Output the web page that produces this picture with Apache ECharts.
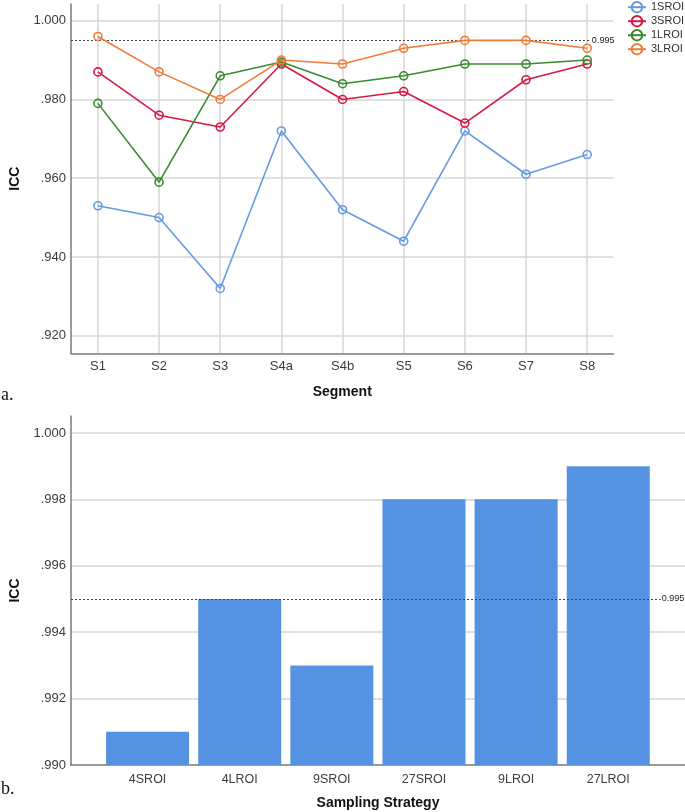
<!DOCTYPE html>
<html>
<head>
<meta charset="utf-8">
<script src="https://cdn.jsdelivr.net/npm/echarts@6/dist/echarts.min.js"></script>
<style>html,body{margin:0;padding:0;background:#fff}#c{width:685px;height:812px}</style>
</head>
<body>
<div id="c"></div>
<script>
const segments = ['S1','S2','S3','S4a','S4b','S5','S6','S7','S8'];
const icc1SROI = [0.953,0.950,0.932,0.972,0.952,0.944,0.972,0.961,0.966];
const icc3SROI = [0.987,0.976,0.973,0.989,0.980,0.982,0.974,0.985,0.989];
const icc1LROI = [0.979,0.959,0.986,0.9895,0.984,0.986,0.989,0.989,0.990];
const icc3LROI = [0.996,0.987,0.980,0.990,0.989,0.993,0.995,0.995,0.993];
const seriesNames = ['1SROI','3SROI','1LROI','3LROI'];
const strategies = ['4SROI','4LROI','9SROI','27SROI','9LROI','27LROI'];
const strategyICC = [0.991,0.995,0.993,0.998,0.998,0.999];
const threshold = 0.995;
const thresholdLabel = '0.995';

const FONT = '"Liberation Sans", Arial, sans-serif';
const colors = ['#6699e0','#d61a44','#3a8a30','#f07c3a'];
const lineData = [icc1SROI, icc3SROI, icc1LROI, icc3LROI];

function iccFmt(step){
  return function(v){
    if (Math.abs(v/step - Math.round(v/step)) > 1e-6) return '';
    if (v > 0.99999) return '1.000';
    return v.toFixed(3).replace(/^0/, '');
  };
}
function catFmt(cats){
  return function(v){
    const r = Math.round(v);
    if (Math.abs(v - r) > 1e-6 || r < 0 || r >= cats.length) return '';
    return cats[r];
  };
}
const gridLine = {show:true, lineStyle:{color:'#d6d6d6', width:1.5}, showMinLine:false, showMaxLine:false};
const axisLineStyle = {show:true, onZero:false, lineStyle:{color:'#7a7a7a', width:1.5}};
const tickLabel = {color:'#3c3c3c', fontFamily:FONT, fontSize:13};
const nameStyle = {color:'#111', fontFamily:FONT, fontSize:14, fontWeight:'bold'};
const refLine = {type:[2,2], color:'#444', width:1};

const lineSeries = seriesNames.map((n,k)=>({
  name:n, type:'line', xAxisIndex:0, yAxisIndex:0,
  data: lineData[k].map((v,i)=>[i,v]),
  symbol:'circle', symbolSize:8,
  lineStyle:{color:colors[k], width:1.6},
  itemStyle:{color:'rgba(255,255,255,0)', borderColor:colors[k], borderWidth:1.6},
  emphasis:{disabled:true},
  z: 3 + k,
  markLine: k === 0 ? {
    silent:true, symbol:['none','none'],
    lineStyle:refLine,
    label:{show:true, position:'end', distance:1, formatter:thresholdLabel, fontSize:9, color:'#222', fontFamily:FONT},
    data:[[{coord:[-0.44, threshold]},{coord:[8.06, threshold]}]]
  } : undefined
}));

const option = {
  animation:false,
  legend:{
    orient:'vertical', left:627, top:1, padding:0,
    itemWidth:18, itemHeight:13, itemGap:1.6,
    textStyle:{fontFamily:FONT, fontSize:11, color:'#333'},
    data: seriesNames
  },
  grid:[
    {left:69, top:4, width:544.5, height:349.3},
    {left:69, top:416, width:616, height:349}
  ],
  xAxis:[
    {type:'value', gridIndex:0, min:-0.44, max:8.43, splitNumber:9, minInterval:1, maxInterval:1,
     axisLine:axisLineStyle, axisTick:{show:false},
     axisLabel:Object.assign({formatter:catFmt(segments), margin:7, showMinLabel:false, showMaxLabel:false}, tickLabel),
     splitLine:gridLine,
     name:'Segment', nameLocation:'middle', nameGap:32, nameTextStyle:nameStyle},
    {type:'value', gridIndex:1, min:-0.831, max:5.833, splitNumber:6, minInterval:1, maxInterval:1,
     axisLine:axisLineStyle, axisTick:{show:false},
     axisLabel:Object.assign({}, tickLabel, {formatter:catFmt(strategies), margin:8, fontSize:12.5, showMinLabel:false, showMaxLabel:false}),
     splitLine:{show:false},
     name:'Sampling Strategy', nameLocation:'middle', nameGap:31, nameTextStyle:nameStyle}
  ],
  yAxis:[
    {type:'value', gridIndex:0, min:0.91553, max:1.00424, splitNumber:4, minInterval:0.02, maxInterval:0.02,
     axisLine:axisLineStyle, axisTick:{show:false},
     axisLabel:Object.assign({formatter:iccFmt(0.02), margin:5, showMinLabel:false, showMaxLabel:false}, tickLabel),
     splitLine:gridLine,
     name:'ICC', nameLocation:'middle', nameGap:49, nameTextStyle:nameStyle},
    {type:'value', gridIndex:1, min:0.990, max:1.00051, splitNumber:5, minInterval:0.002, maxInterval:0.002,
     axisLine:axisLineStyle, axisTick:{show:false},
     axisLabel:Object.assign({formatter:iccFmt(0.002), margin:5, showMinLabel:true, showMaxLabel:false}, tickLabel),
     splitLine:gridLine,
     name:'ICC', nameLocation:'middle', nameGap:49, nameTextStyle:nameStyle}
  ],
  graphic:[
    {type:'text', left:1, top:386, style:{text:'a.', font:'18px "Liberation Serif", "Times New Roman", serif', fill:'#111'}},
    {type:'text', left:1, top:780, style:{text:'b.', font:'18px "Liberation Serif", "Times New Roman", serif', fill:'#111'}}
  ],
  series: lineSeries.concat([{
    name:'Strategy ICC', type:'bar', xAxisIndex:1, yAxisIndex:1,
    data: strategyICC.map((v,i)=>[i,v]),
    barWidth:83, itemStyle:{color:'#5593e2'},
    emphasis:{disabled:true},
    markLine:{
      silent:true, symbol:['none','none'], lineStyle:refLine,
      label:{show:true, position:'end', distance:1, formatter:thresholdLabel, fontSize:9, color:'#222', fontFamily:FONT},
      data:[[{coord:[-0.831, threshold]},{coord:[5.57, threshold]}]]
    },
    z:2
  }])
};
const chart = echarts.init(document.getElementById('c'), null, {renderer:'canvas'});
chart.setOption(option);
</script>
</body>
</html>
